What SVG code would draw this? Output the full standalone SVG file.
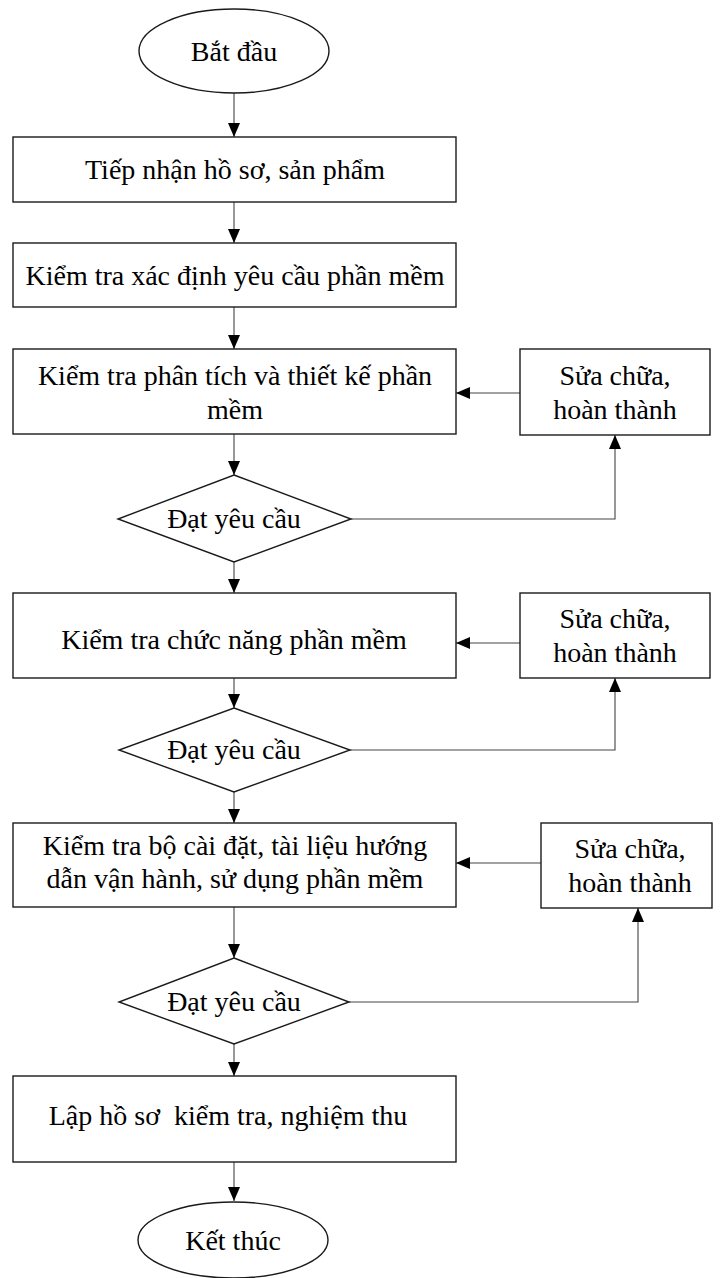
<svg xmlns="http://www.w3.org/2000/svg" width="723" height="1278" viewBox="0 0 723 1278">
<defs>
<style>
.shape{fill:#fff;stroke:#1a1a1a;stroke-width:1.4}
.t{font-family:"Liberation Serif","Times New Roman",serif;font-size:28px;fill:#000;text-anchor:middle}
.c{fill:none;stroke:#444;stroke-width:1.1}
</style>
<marker id="ah" markerUnits="userSpaceOnUse" markerWidth="14" markerHeight="12" refX="14" refY="6" orient="auto">
<path d="M0,0 L14,6 L0,12 z" fill="#000"/>
</marker>
</defs>
<rect width="723" height="1278" fill="#fff"/>
<g id="connectors">
<line class="c" x1="234" y1="93" x2="234" y2="137" marker-end="url(#ah)"/>
<line class="c" x1="234" y1="202" x2="234" y2="243" marker-end="url(#ah)"/>
<line class="c" x1="234" y1="307" x2="234" y2="349" marker-end="url(#ah)"/>
<line class="c" x1="520" y1="393" x2="456" y2="393" marker-end="url(#ah)"/>
<line class="c" x1="234" y1="434" x2="234" y2="475" marker-end="url(#ah)"/>
<polyline class="c" points="351,519 615,519 615,435" marker-end="url(#ah)"/>
<line class="c" x1="234" y1="562" x2="234" y2="593" marker-end="url(#ah)"/>
<line class="c" x1="520" y1="643" x2="456" y2="643" marker-end="url(#ah)"/>
<line class="c" x1="234" y1="678" x2="234" y2="708" marker-end="url(#ah)"/>
<polyline class="c" points="350,750 615,750 615,678" marker-end="url(#ah)"/>
<line class="c" x1="234" y1="792" x2="234" y2="823" marker-end="url(#ah)"/>
<line class="c" x1="541" y1="863" x2="456" y2="863" marker-end="url(#ah)"/>
<line class="c" x1="234" y1="907" x2="234" y2="958" marker-end="url(#ah)"/>
<polyline class="c" points="349,1002 638,1002 638,908" marker-end="url(#ah)"/>
<line class="c" x1="234" y1="1044" x2="234" y2="1076" marker-end="url(#ah)"/>
<line class="c" x1="234" y1="1162" x2="234" y2="1201" marker-end="url(#ah)"/>
</g>
<g id="start">
<ellipse class="shape" cx="234" cy="51" rx="95" ry="42"/>
<text class="t" x="234" y="61">Bắt đầu</text>
</g>
<g id="receive">
<rect class="shape" x="13" y="137" width="443" height="65"/>
<text class="t" x="235" y="179">Tiếp nhận hồ sơ, sản phẩm</text>
</g>
<g id="check-req">
<rect class="shape" x="13" y="243" width="443" height="64"/>
<text class="t" x="235" y="285">Kiểm tra xác định yêu cầu phần mềm</text>
</g>
<g id="check-design">
<rect class="shape" x="13" y="349" width="443" height="85"/>
<text class="t" x="235" y="385">Kiểm tra phân tích và thiết kế phần</text>
<text class="t" x="235" y="419">mềm</text>
</g>
<g id="fix1">
<rect class="shape" x="520" y="349" width="190" height="86"/>
<text class="t" x="615" y="385">Sửa chữa,</text>
<text class="t" x="615" y="419">hoàn thành</text>
</g>
<g id="decision1">
<polygon class="shape" points="234,475 351,519 234,562 118,519"/>
<text class="t" x="234" y="528">Đạt yêu cầu</text>
</g>
<g id="check-func">
<rect class="shape" x="13" y="593" width="443" height="85"/>
<text class="t" x="234" y="649">Kiểm tra chức năng phần mềm</text>
</g>
<g id="fix2">
<rect class="shape" x="520" y="593" width="190" height="85"/>
<text class="t" x="615" y="628">Sửa chữa,</text>
<text class="t" x="615" y="662">hoàn thành</text>
</g>
<g id="decision2">
<polygon class="shape" points="234,708 350,750 234,792 119,750"/>
<text class="t" x="234" y="759">Đạt yêu cầu</text>
</g>
<g id="check-install">
<rect class="shape" x="13" y="823" width="443" height="84"/>
<text class="t" x="235" y="855">Kiểm tra bộ cài đặt, tài liệu hướng</text>
<text class="t" x="235" y="888">dẫn vận hành, sử dụng phần mềm</text>
</g>
<g id="fix3">
<rect class="shape" x="541" y="823" width="171" height="85"/>
<text class="t" x="630" y="858">Sửa chữa,</text>
<text class="t" x="630" y="892">hoàn thành</text>
</g>
<g id="decision3">
<polygon class="shape" points="234,958 349,1002 234,1044 119,1002"/>
<text class="t" x="234" y="1011">Đạt yêu cầu</text>
</g>
<g id="record">
<rect class="shape" x="13" y="1076" width="443" height="86"/>
<text class="t" x="228" y="1125" style="white-space:pre" xml:space="preserve">Lập hồ sơ  kiểm tra, nghiệm thu</text>
</g>
<g id="end">
<ellipse class="shape" cx="233" cy="1240" rx="95" ry="38"/>
<text class="t" x="233" y="1250">Kết thúc</text>
</g>
</svg>
